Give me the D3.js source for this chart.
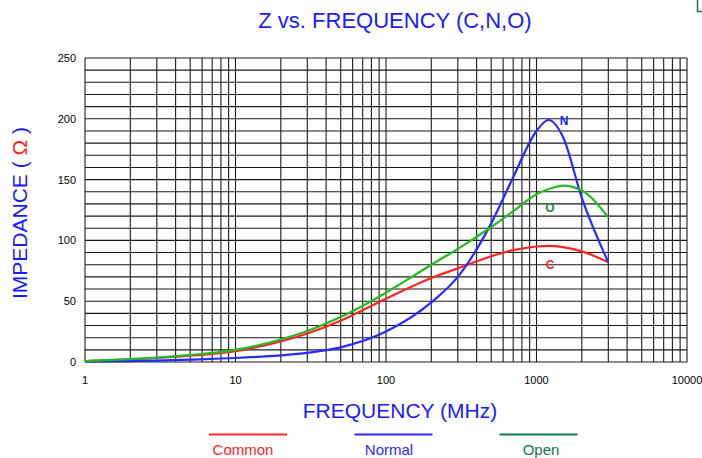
<!DOCTYPE html>
<html>
<head>
<meta charset="utf-8">
<script src="https://cdn.jsdelivr.net/npm/d3@7"></script>
<style>
  html, body { margin: 0; padding: 0; background: #fff; }
  svg { display: block; font-family: "Liberation Sans", Arial, sans-serif; }
</style>
</head>
<body>
<svg id="chart" width="702" height="458"></svg>
<script>
// frequency points (MHz) and impedance (ohm)
var freqs   = [1, 2, 3, 5, 10, 20, 30, 50, 100, 200, 300, 500, 700, 1000, 1200, 1500, 2000, 3000];
var common  = [0.8, 2.2, 3.3, 5.2, 9, 17, 23.5, 34, 52, 69, 77, 87, 92, 95, 95.5, 94.5, 91, 82];
var normal  = [0.3, 0.8, 1.2, 2, 3.3, 5.5, 7.5, 12, 25, 49, 70, 114, 152, 190, 199, 185, 135, 82];
var open    = [0.8, 2.4, 3.6, 5.8, 10, 18.5, 25.5, 37, 57, 80, 93, 111, 124, 138, 142, 145, 141, 119];

var xTicks = [1, 10, 100, 1000, 10000];
var yTicks = [0, 50, 100, 150, 200, 250];

var series = [
  { key: 'Common', tag: 'C', values: common, color: '#ff2424', legendColor: '#ff2424', tagColor: '#ff2424', tagAt: [550, 265] },
  { key: 'Normal', tag: 'N', values: normal, color: '#2a2aff', legendColor: '#2a2aff', tagColor: '#1a1aff', tagAt: [564, 121] },
  { key: 'Open',   tag: 'O', values: open,   color: '#22bb22', legendColor: '#16785a', tagColor: '#2a8a3a', tagAt: [550, 208] }
];

var svg = d3.select('#chart');

var x = d3.scaleLog().domain([1, 10000]).range([85, 687]);
var y = d3.scaleLinear().domain([0, 250]).range([362, 58]);

// grid
var grid = svg.append('g').classed('grid', true)
  .attr('stroke', '#1a1a1a')
  .attr('stroke-width', 1.1);

var vLines = [];
for (var k = 0; k < 4; k++) {
  for (var m = 1; m < 10; m++) { vLines.push(m * Math.pow(10, k)); }
}
vLines.push(10000);

grid.selectAll('line.v')
  .data(vLines)
  .enter()
  .append('line')
  .classed('v', true)
  .attr('x1', d => x(d)).attr('x2', d => x(d))
  .attr('y1', y(250)).attr('y2', y(0));

grid.selectAll('line.h')
  .data(d3.range(0, 251, 10))
  .enter()
  .append('line')
  .classed('h', true)
  .attr('x1', x(1)).attr('x2', x(10000))
  .attr('y1', d => y(d)).attr('y2', d => y(d));

// tick labels
svg.append('g')
  .selectAll('text')
  .data(xTicks)
  .enter()
  .append('text')
  .attr('x', d => x(d))
  .attr('y', 384)
  .attr('text-anchor', 'middle')
  .style('font-size', '11px')
  .text(d => d);

svg.append('g')
  .selectAll('text')
  .data(yTicks)
  .enter()
  .append('text')
  .attr('x', 76)
  .attr('y', d => y(d) + 4)
  .attr('text-anchor', 'end')
  .style('font-size', '11px')
  .text(d => d);

// curves
var line = d3.line()
  .x(d => x(d[0]))
  .y(d => y(d[1]))
  .curve(d3.curveMonotoneX);

series.forEach(function(s){
  svg.append('path')
    .datum(freqs.map((f, i) => [f, s.values[i]]))
    .attr('d', line)
    .attr('fill', 'none')
    .attr('stroke', s.color)
    .attr('stroke-width', 2.2);

  svg.append('text')
    .attr('x', s.tagAt[0])
    .attr('y', s.tagAt[1] + 4)
    .attr('text-anchor', 'middle')
    .style('font-size', '12px')
    .style('font-weight', 700)
    .style('fill', s.tagColor)
    .text(s.tag);
});

// titles
svg.append('text')
  .attr('x', 395)
  .attr('y', 28)
  .attr('text-anchor', 'middle')
  .style('font-size', '22px')
  .style('fill', '#1a1aff')
  .text('Z  vs.  FREQUENCY  (C,N,O)');

svg.append('text')
  .attr('x', 400)
  .attr('y', 418)
  .attr('text-anchor', 'middle')
  .style('font-size', '21px')
  .style('fill', '#1a1aff')
  .text('FREQUENCY  (MHz)');

var yTitle = svg.append('text')
  .attr('transform', 'translate(27,213) rotate(-90)')
  .attr('text-anchor', 'middle')
  .style('font-size', '21px')
  .style('fill', '#1a1aff');
yTitle.append('tspan').text('IMPEDANCE  (');
yTitle.append('tspan').style('fill', '#ff2424').text(' Ω ');
yTitle.append('tspan').text(')');

// legend
var legend = svg.append('g').classed('legend', true);
var legendLineX = [248, 393.5, 538.5];
var legendTextX = [243, 389, 541];
series.forEach(function(s, i){
  legend.append('line')
    .attr('x1', legendLineX[i] - 39).attr('x2', legendLineX[i] + 39)
    .attr('y1', 434.5).attr('y2', 434.5)
    .attr('stroke', s.legendColor)
    .attr('stroke-width', 2);
  legend.append('text')
    .attr('x', legendTextX[i])
    .attr('y', 455)
    .attr('text-anchor', 'middle')
    .style('font-size', '15px')
    .style('fill', s.legendColor)
    .text(s.key);
});

// stray frame corner at top right
svg.append('path')
  .attr('d', 'M697.5,0 V11.5 H702')
  .attr('fill', 'none')
  .attr('stroke', '#16785a')
  .attr('stroke-width', 1.5);
</script>
</body>
</html>
